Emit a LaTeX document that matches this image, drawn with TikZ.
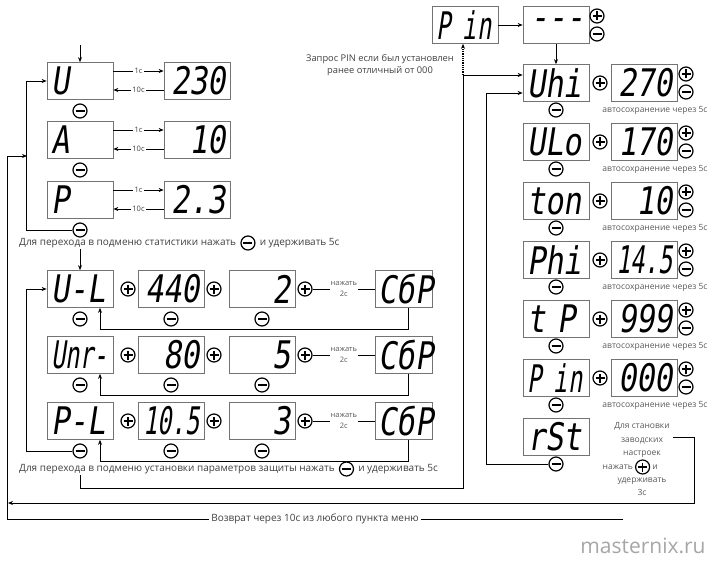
\documentclass[tikz,border=0pt]{standalone}
\usepackage{fontspec}
\setmainfont{Open Sans}
\newfontfamily\segfont[FakeSlant=0.15,FakeStretch=0.8]{DejaVu Sans Mono}
\newfontfamily\segnarrow[FakeSlant=0.15,FakeStretch=0.62]{DejaVu Sans Mono}
\usetikzlibrary{arrows.meta,positioning}

\begin{document}
\begin{tikzpicture}[x=1pt,y=-1pt,
  lcd/.style={draw=black!55, line width=0.7pt, minimum width=66pt, minimum height=37pt, inner sep=0pt, text width=58pt, font=\segfont\fontsize{38}{38}\selectfont},
  lcdname/.style={lcd, align=left},
  lcdval/.style={lcd, align=right},
  lcdnarrow/.style={font=\segnarrow\fontsize{38}{38}\selectfont},
  lcdres/.style={lcd, minimum width=57pt, text width=51pt, align=center},
  btn/.style={circle, draw, line width=1.2pt, minimum size=14pt, inner sep=0pt},
  bminus/.style={btn, path picture={\draw[line width=1.3pt] ([xshift=-4.5pt]path picture bounding box.center) -- ([xshift=4.5pt]path picture bounding box.center);}},
  bplus/.style={btn, path picture={\draw[line width=1.3pt] ([xshift=-4.5pt]path picture bounding box.center) -- ([xshift=4.5pt]path picture bounding box.center) ([yshift=-4.5pt]path picture bounding box.center) -- ([yshift=4.5pt]path picture bounding box.center);}},
  note/.style={font=\fontsize{10}{12}\selectfont, text=black!75, inner sep=1pt},
  reqnote/.style={font=\fontsize{9.3}{12}\selectfont, text=black!75, inner sep=1pt, align=center},
  savenote/.style={font=\fontsize{8.5}{10}\selectfont, text=black!65, inner sep=1pt},
  hint/.style={font=\fontsize{8.5}{13.3}\selectfont, text=black!65, align=center, inner sep=1pt},
  tlabel/.style={font=\fontsize{7.5}{9}\selectfont, text=black!75, fill=white, inner sep=1.5pt},
  press/.style={font=\fontsize{7.5}{10.5}\selectfont, text=black!65, fill=white, align=center, inner sep=1pt},
  wire/.style={line width=0.8pt},
  arr/.style={wire, -{Stealth[length=5pt,width=4pt]}},
]
\useasboundingbox (0,0) rectangle (720,564);

% statistics
\node[lcdname] (u) at (80,81) {U};
\node[lcdval] (uv) at (197,81) {230};
\node[bminus] (um) at (80,111) {};
\node[lcdname] (a) at (80,140) {A};
\node[lcdval] (av) at (197,140) {10};
\node[bminus] (am) at (80,170) {};
\node[lcdname] (p) at (80,200) {P};
\node[lcdval] (pv) at (197,200) {2.3};
\node[bminus] (pm) at (80,230) {};
\coordinate (start) at (80,45);
\draw[arr] (start) -- (u.north);
\draw[arr] ([yshift=10pt]u.east) -- node[tlabel]{1с} ([yshift=10pt]uv.west);
\draw[arr] ([yshift=-9pt]uv.west) -- node[tlabel]{10с} ([yshift=-9pt]u.east);
\draw[arr] ([yshift=10pt]a.east) -- node[tlabel]{1с} ([yshift=10pt]av.west);
\draw[arr] ([yshift=-9pt]av.west) -- node[tlabel]{10с} ([yshift=-9pt]a.east);
\draw[arr] ([yshift=10pt]p.east) -- node[tlabel]{1с} ([yshift=10pt]pv.west);
\draw[arr] ([yshift=-9pt]pv.west) -- node[tlabel]{10с} ([yshift=-9pt]p.east);
\draw[arr] (pm.west) -- ++(-46,0) |- (u.west);
\node[note, anchor=west] (st1) at (18,243) {Для перехода в подменю статистики нажать};
\node[bminus, right=3pt of st1] (st2) {};
\node[note, right=3pt of st2] (st3) {и удерживать 5с};

% protection
\node[lcdname] (ul) at (80,289) {U-L};
\node[bplus] (ulp) at (128,289) {};
\node[lcdval] (ulv) at (171,289) {440};
\node[bplus] (ulvp) at (214,289) {};
\node[lcdval] (uld) at (262,289) {2};
\node[bplus] (uldp) at (305,289) {};
\node[lcdres] (ulr) at (404,289) {СбР};
\node[bminus] (ulm) at (80,319) {};
\node[bminus] (ulvm) at (171,319) {};
\node[bminus] (uldm) at (262,319) {};
\draw[wire] (uldp) -- node[press]{нажать\\2с} (ulr);
\draw[arr] ([xshift=4pt]ulr.south) -- ++(0,22) -| ([xshift=20pt]ul.south);
\draw[arr] (st1.south -| ul.north) -- (ul.north);

\node[lcdname, lcdnarrow] (ur) at (80,355) {Unr-};
\node[bplus] (urp) at (128,355) {};
\node[lcdval] (urv) at (171,355) {80};
\node[bplus] (urvp) at (214,355) {};
\node[lcdval] (urd) at (262,355) {5};
\node[bplus] (urdp) at (305,355) {};
\node[lcdres] (urr) at (404,355) {СбР};
\node[bminus] (urm) at (80,385) {};
\node[bminus] (urvm) at (171,385) {};
\node[bminus] (urdm) at (262,385) {};
\draw[wire] (urdp) -- node[press]{нажать\\2с} (urr);
\draw[arr] ([xshift=4pt]urr.south) -- ++(0,22) -| ([xshift=20pt]ur.south);

\node[lcdname] (pl) at (80,421) {P-L};
\node[bplus] (plp) at (128,421) {};
\node[lcdval, lcdnarrow] (plv) at (171,421) {10.5};
\node[bplus] (plvp) at (214,421) {};
\node[lcdval] (pld) at (262,421) {3};
\node[bplus] (pldp) at (305,421) {};
\node[lcdres] (plr) at (404,421) {СбР};
\node[bminus] (plm) at (80,451) {};
\node[bminus] (plvm) at (171,451) {};
\node[bminus] (pldm) at (262,451) {};
\draw[wire] (pldp) -- node[press]{нажать\\2с} (plr);
\draw[arr] ([xshift=4pt]plr.south) -- ++(0,22) -| ([xshift=20pt]pl.south);
\draw[arr] (plm.west) -- ++(-46,0) |- (ul.west);
\node[note, anchor=west] (pt1) at (18,469) {Для перехода в подменю установки параметров защиты нажать};
\node[bminus, right=3pt of pt1] (pt2) {};
\node[note, right=3pt of pt2] (pt3) {и удерживать 5с};

% settings
\node[lcdname, lcdnarrow] (pin) at (465,25) {P in};
\node[lcdval] (dash) at (556,25) {-{}-{}-};
\node[bplus] (dashup) at (597,16) {};
\node[bminus] (dashdn) at (597,34) {};
\draw[arr] (pin) -- (dash);
\node[reqnote] (req) at (380,65) {Запрос PIN если был установлен\\ранее отличный от 000};

\node[lcdname] (uhi) at (556,83) {Uhi};
\node[bplus] (uhip) at (600,83) {};
\node[lcdval] (uhiv) at (644,83) {270};
\node[bplus] (uhiup) at (686,74) {};
\node[bminus] (uhidn) at (686,92) {};
\node[bminus] (uhim) at (556,110) {};
\node[savenote] (uhis) at (655,110) {автосохранение через 5с};
\draw[arr] (dash.south) -- (uhi.north);

\node[lcdname] (ulo) at (556,142) {ULo};
\node[bplus] (ulop) at (600,142) {};
\node[lcdval] (ulov) at (644,142) {170};
\node[bplus] (uloup) at (686,133) {};
\node[bminus] (ulodn) at (686,151) {};
\node[bminus] (ulom) at (556,169) {};
\node[savenote] (ulos) at (655,169) {автосохранение через 5с};

\node[lcdname] (ton) at (556,201) {ton};
\node[bplus] (tonp) at (600,201) {};
\node[lcdval] (tonv) at (644,201) {10};
\node[bplus] (tonup) at (686,192) {};
\node[bminus] (tondn) at (686,210) {};
\node[bminus] (tonm) at (556,228) {};
\node[savenote] (tons) at (655,228) {автосохранение через 5с};

\node[lcdname] (phi) at (556,260) {Phi};
\node[bplus] (phip) at (600,260) {};
\node[lcdval, lcdnarrow] (phiv) at (644,260) {14.5};
\node[bplus] (phiup) at (686,251) {};
\node[bminus] (phidn) at (686,269) {};
\node[bminus] (phim) at (556,287) {};
\node[savenote] (phis) at (655,287) {автосохранение через 5с};

\node[lcdname] (tp) at (556,319) {t P};
\node[bplus] (tpp) at (600,319) {};
\node[lcdval] (tpv) at (644,319) {999};
\node[bplus] (tpup) at (686,310) {};
\node[bminus] (tpdn) at (686,328) {};
\node[bminus] (tpm) at (556,346) {};
\node[savenote] (tps) at (655,346) {автосохранение через 5с};

\node[lcdname, lcdnarrow] (pinr) at (556,378) {P in};
\node[bplus] (pinrp) at (600,378) {};
\node[lcdval] (pinrv) at (644,378) {000};
\node[bplus] (pinrup) at (686,369) {};
\node[bminus] (pinrdn) at (686,387) {};
\node[bminus] (pinrm) at (556,405) {};
\node[savenote] (pinrs) at (655,405) {автосохранение через 5с};

\node[lcdname] (rst) at (556,437) {rSt};
\node[bminus] (rstm) at (556,464) {};
\node[hint] (rst1) at (642,440) {Для становки\\заводских\\настроек};
\node[hint, anchor=east] (rst2) at (634,467) {нажать};
\node[bplus, right=1pt of rst2] (rst3) {};
\node[hint, right=1pt of rst3] (rst4) {и};
\node[hint] (rst5) at (642,487) {удерживать\\3с};

% links
\coordinate (uhiin) at ([yshift=8pt]uhi.west);
\coordinate (busa) at (463,488);
\draw[arr] (pt1.south -| ul.south) |- (busa) |- (uhiin);
\draw[arr, densely dotted, line width=1.3pt] (busa |- uhiin) -- (busa |- pin.south);
\draw[arr] (rstm.west) -- ++(-62,0) |- ([yshift=-10pt]uhi.west);
\coordinate (rsto) at (673,437);
\coordinate (retl) at (8,503);
\draw[arr] (rsto) -- ++(21,0) |- (retl);
\coordinate (rete) at (623,519);
\coordinate (retj) at (27,156);
\draw[arr] (rete) -- node[note, fill=white, inner sep=2pt]{Возврат через 10с из любого пункта меню} ++(-616,0) |- (retj);

\node[font=\fontsize{21}{21}\selectfont, text=black!35] (wm) at (643,546) {masternix.ru};
\end{tikzpicture}
\end{document}
